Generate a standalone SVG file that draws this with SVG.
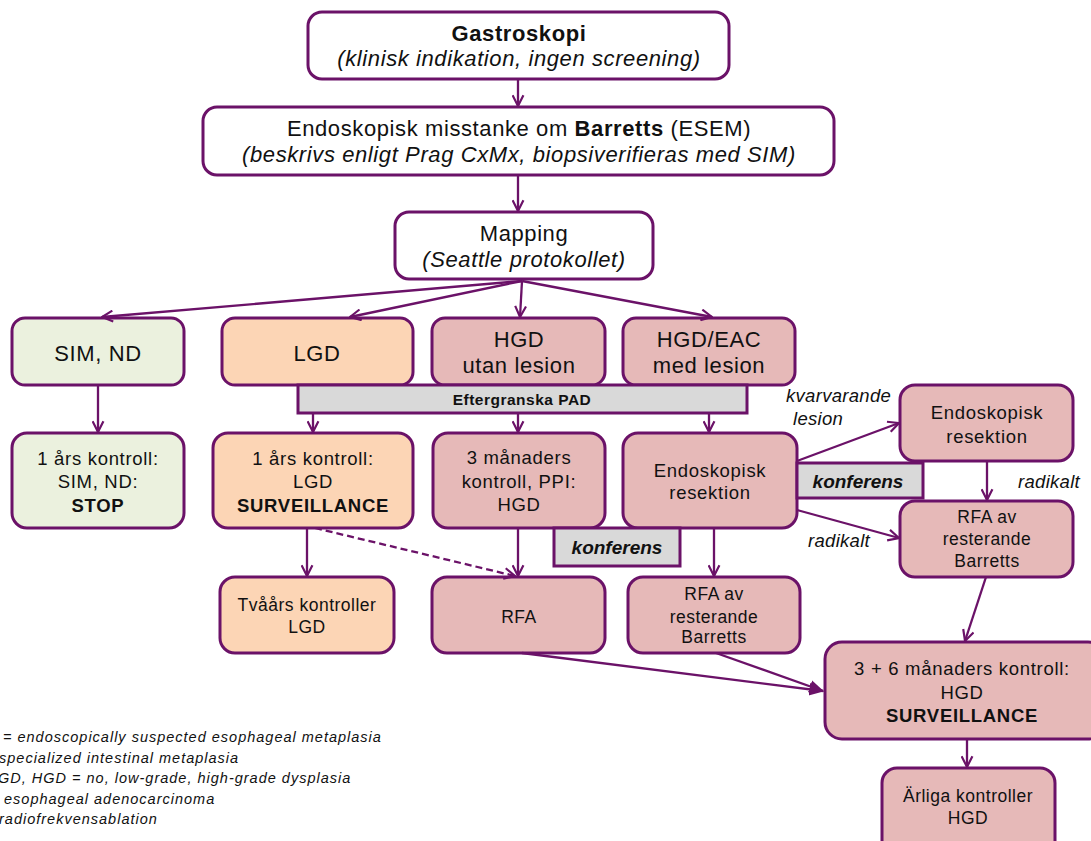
<svg xmlns="http://www.w3.org/2000/svg" width="1091" height="841" viewBox="0 0 1091 841">
<style>
text{font-family:"Liberation Sans",Arial,sans-serif;fill:#111;text-anchor:middle}
.box{stroke:#6B1268;stroke-width:3}
.w{fill:#fff}.g{fill:#EBF1DE}.o{fill:#FCD5B5}.p{fill:#E6B9B8}.gr{fill:#D9D9D9}
.t22{font-size:22px;letter-spacing:0.6px}
.t19{font-size:18.5px;letter-spacing:0.7px}
.t17{font-size:17.5px;letter-spacing:0.5px}
.b{font-weight:bold}.i{font-style:italic}
.conf{font-size:19px;font-weight:bold;font-style:italic}
.lab{font-size:18.5px;font-style:italic;text-anchor:start;letter-spacing:0.3px}
.leg{font-size:14.5px;font-style:italic;text-anchor:start;letter-spacing:1px}
.c{fill:none;stroke:#6B1268;stroke-width:2.3}
.d{stroke-dasharray:7 4}
</style>
<defs>
<marker id="a" viewBox="0 0 12 12" refX="11" refY="6" markerWidth="13" markerHeight="13" markerUnits="userSpaceOnUse" orient="auto">
<path d="M1,1 L11,6 L1,11" fill="none" stroke="#6B1268" stroke-width="2"/>
</marker>
<marker id="f" viewBox="0 0 12 12" refX="11" refY="6" markerWidth="15" markerHeight="15" markerUnits="userSpaceOnUse" orient="auto">
<path d="M0,1 L12,6 L0,11 z" fill="#6B1268"/>
</marker>
</defs>

<g id="n-gastro"><rect class="box w" x="308" y="12" width="421" height="67" rx="14"/>
<text class="t22 b" x="519" y="41">Gastroskopi</text>
<text class="t22 i" x="519" y="66">(klinisk indikation, ingen screening)</text></g>

<g id="n-esem"><rect class="box w" x="203" y="107" width="631" height="68" rx="14"/>
<text class="t22" x="519" y="136">Endoskopisk misstanke om <tspan class="b">Barretts</tspan> (ESEM)</text>
<text class="t22 i" x="519" y="162">(beskrivs enligt Prag CxMx, biopsiverifieras med SIM)</text></g>

<g id="n-mapping"><rect class="box w" x="395" y="212" width="258" height="67" rx="14"/>
<text class="t22" x="524" y="241">Mapping</text>
<text class="t22 i" x="524" y="267">(Seattle protokollet)</text></g>

<g id="n-simnd"><rect class="box g" x="12" y="318" width="172" height="67" rx="13"/>
<text class="t22" x="98" y="361">SIM, ND</text></g>
<g id="n-lgd"><rect class="box o" x="222" y="318" width="191" height="67" rx="13"/>
<text class="t22" x="317" y="361">LGD</text></g>
<g id="n-hgd"><rect class="box p" x="432" y="318" width="173" height="67" rx="13"/>
<text class="t22" x="519" y="347">HGD</text><text class="t22" x="519" y="373">utan lesion</text></g>
<g id="n-hgdeac"><rect class="box p" x="623" y="318" width="172" height="67" rx="13"/>
<text class="t22" x="709" y="347">HGD/EAC</text><text class="t22" x="709" y="373">med lesion</text></g>

<g id="n-pad"><rect class="box gr" x="298" y="385" width="449" height="28" stroke-width="2.5"/>
<text class="b" x="522" y="405" font-size="15.5px" letter-spacing="0.5">Eftergranska PAD</text></g>

<g id="n-sim1"><rect class="box g" x="12" y="433" width="172" height="95" rx="15"/>
<text class="t19" x="98" y="465">1 års kontroll:</text><text class="t19" x="98" y="488">SIM, ND:</text><text class="t19 b" x="98" y="512">STOP</text></g>
<g id="n-lgd1"><rect class="box o" x="213" y="433" width="200" height="95" rx="15"/>
<text class="t19" x="313" y="465">1 års kontroll:</text><text class="t19" x="313" y="488">LGD</text><text class="t19 b" x="313" y="512">SURVEILLANCE</text></g>
<g id="n-3man"><rect class="box p" x="433" y="433" width="172" height="95" rx="15"/>
<text class="t19" x="519" y="464">3 månaders</text><text class="t19" x="519" y="488">kontroll, PPI:</text><text class="t19" x="519" y="511">HGD</text></g>
<g id="n-er1"><rect class="box p" x="623" y="433" width="174" height="95" rx="15"/>
<text class="t19" x="710" y="477">Endoskopisk</text><text class="t19" x="710" y="499">resektion</text></g>

<g id="n-konf1"><rect class="box gr" x="554" y="528" width="126" height="38" stroke-width="2.5"/>
<text class="conf" x="617" y="554">konferens</text></g>

<g id="n-er2"><rect class="box p" x="900" y="385" width="173" height="76" rx="15"/>
<text class="t19" x="987" y="419">Endoskopisk</text><text class="t19" x="987" y="443">resektion</text></g>
<g id="n-konf2"><rect class="box gr" x="797" y="463" width="126" height="35" stroke-width="2.5"/>
<text class="conf" x="858" y="488">konferens</text></g>
<g id="n-rfa2"><rect class="box p" x="900" y="501" width="173" height="76" rx="15"/>
<text class="t17" x="987" y="523">RFA av</text><text class="t17" x="987" y="545">resterande</text><text class="t17" x="987" y="567">Barretts</text></g>

<g id="n-tvaars"><rect class="box o" x="220" y="577" width="174" height="76" rx="15"/>
<text class="t17" x="307" y="611">Tvåårs kontroller</text><text class="t17" x="307" y="633">LGD</text></g>
<g id="n-rfa"><rect class="box p" x="432" y="577" width="173" height="76" rx="15"/>
<text class="t17" x="519" y="623">RFA</text></g>
<g id="n-rfa1"><rect class="box p" x="628" y="577" width="172" height="76" rx="15"/>
<text class="t17" x="714" y="600">RFA av</text><text class="t17" x="714" y="623">resterande</text><text class="t17" x="714" y="643">Barretts</text></g>

<g id="n-36"><rect class="box p" x="825" y="642" width="280" height="97" rx="17"/>
<text class="t19" x="962" y="675">3 + 6 månaders kontroll:</text><text class="t19" x="962" y="699">HGD</text><text class="t19 b" x="962" y="722">SURVEILLANCE</text></g>
<g id="n-arliga"><rect class="box p" x="882" y="768" width="173" height="90" rx="15"/>
<text class="t17" x="968" y="802">Ärliga kontroller</text><text class="t17" x="968" y="824">HGD</text></g>

<g id="labels">
<text class="lab" x="786" y="402">kvarvarande</text>
<text class="lab" x="793" y="425">lesion</text>
<text class="lab" x="1018" y="488">radikalt</text>
<text class="lab" x="808" y="547">radikalt</text>
</g>

<g id="legend">
<text class="leg" x="3" y="742" letter-spacing="1.2">= endoscopically suspected esophageal metaplasia</text>
<text class="leg" x="-1" y="763">specialized intestinal metaplasia</text>
<text class="leg" x="-2" y="783">GD, HGD = no, low-grade, high-grade dysplasia</text>
<text class="leg" x="4" y="804">esophageal adenocarcinoma</text>
<text class="leg" x="-1" y="824">radiofrekvensablation</text>
</g>

<g id="connectors">
<path class="c" d="M518,79 L518,106" marker-end="url(#a)"/>
<path class="c" d="M518,175 L518,211" marker-end="url(#a)"/>
<path class="c" d="M522,281 L102,317" marker-end="url(#a)"/>
<path class="c" d="M522,281 L350,317" marker-end="url(#a)"/>
<path class="c" d="M522,281 L520,317" marker-end="url(#a)"/>
<path class="c" d="M522,281 L712,317" marker-end="url(#a)"/>
<path class="c" d="M98,385 L98,432" marker-end="url(#a)"/>
<path class="c" d="M313,413 L313,432" marker-end="url(#a)"/>
<path class="c" d="M518,413 L518,432" marker-end="url(#a)"/>
<path class="c" d="M709,413 L709,432" marker-end="url(#a)"/>
<path class="c" d="M307,528 L307,576" marker-end="url(#a)"/>
<path class="c d" d="M315,528 L515,576" marker-end="url(#a)"/>
<path class="c" d="M518,528 L518,576" marker-end="url(#a)"/>
<path class="c" d="M714,528 L714,576" marker-end="url(#a)"/>
<path class="c" d="M797,461 L899,423" marker-end="url(#a)"/>
<path class="c" d="M797,510 L899,538" marker-end="url(#a)"/>
<path class="c" d="M987,461 L987,500" marker-end="url(#a)"/>
<path class="c" d="M522,653 L823,691" marker-end="url(#f)"/>
<path class="c" d="M716,653 L823,691" marker-end="url(#f)"/>
<path class="c" d="M986,577 L965,641" marker-end="url(#a)"/>
<path class="c" d="M967,739 L967,767" marker-end="url(#a)"/>
</g>
</svg>
